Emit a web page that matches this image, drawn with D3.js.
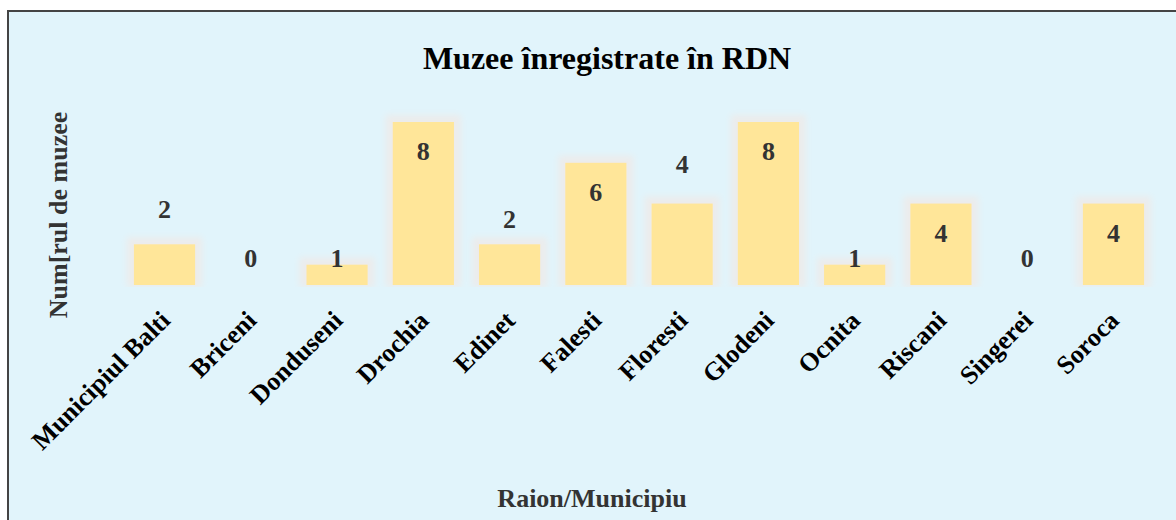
<!DOCTYPE html>
<html>
<head>
<meta charset="utf-8">
<script src="https://cdn.jsdelivr.net/npm/d3@7"></script>
<style>
  body { margin: 0; background: #fff; }
  svg { display: block; font-family: "Liberation Serif", "Times New Roman", serif; }
</style>
</head>
<body>
<div id="chart"></div>
<script>
// data
var raioane = ["Municipiul Balti", "Briceni", "Donduseni", "Drochia", "Edinet", "Falesti",
               "Floresti", "Glodeni", "Ocnita", "Riscani", "Singerei", "Soroca"];
var muzee = [2, 0, 1, 8, 2, 6, 4, 8, 1, 4, 0, 4];

var svgWidth = 1176;
var svgHeight = 520;

// labels that sit above their bar, px above the bar top
var labelLift = { "Municipiul Balti": 26, "Edinet": 16, "Floresti": 31 };

var svg = d3.select("#chart")
    .append("svg")
    .attr("width", svgWidth)
    .attr("height", svgHeight);

// panel
svg.append("rect")
    .attr("x", 8)
    .attr("y", 11)
    .attr("width", 1200)
    .attr("height", 560)
    .attr("fill", "#e1f4fb")
    .attr("stroke", "#444")
    .attr("stroke-width", 2);

// halo round the bars, cut off just under the baseline
var defs = svg.append("defs");
var glow = defs.append("filter")
    .attr("id", "glow")
    .attr("filterUnits", "userSpaceOnUse")
    .attr("x", 0).attr("y", 0)
    .attr("width", svgWidth).attr("height", 287);
glow.append("feMorphology")
    .attr("in", "SourceAlpha")
    .attr("operator", "dilate")
    .attr("radius", 7)
    .attr("result", "fat");
glow.append("feGaussianBlur")
    .attr("in", "fat")
    .attr("stdDeviation", 3)
    .attr("result", "soft");
glow.append("feFlood").attr("flood-color", "#ececec").attr("result", "col");
glow.append("feComposite")
    .attr("in", "col").attr("in2", "soft")
    .attr("operator", "in").attr("result", "halo");
var merge = glow.append("feMerge");
merge.append("feMergeNode").attr("in", "halo");
merge.append("feMergeNode").attr("in", "SourceGraphic");

var xScale = d3.scaleBand()
    .domain(raioane)
    .range([108, 1170])
    .paddingInner(0.29)
    .paddingOuter(0.3);

var yScale = d3.scaleLinear()
    .domain([0, d3.max(muzee)])
    .range([285, 122]);

var data = raioane.map(function(r, i) { return { raion: r, value: muzee[i] }; });

svg.append("g")
    .selectAll("rect")
    .data(data)
    .enter()
    .append("rect")
    .attr("x", d => xScale(d.raion))
    .attr("y", d => yScale(d.value))
    .attr("width", xScale.bandwidth())
    .attr("height", d => yScale(0) - yScale(d.value))
    .attr("fill", "#ffe699")
    .attr("filter", "url(#glow)");

// value labels
svg.append("g")
    .selectAll("text")
    .data(data)
    .enter()
    .append("text")
    .attr("x", d => xScale(d.raion) + xScale.bandwidth() / 2)
    .attr("y", function(d) {
        if (labelLift[d.raion] !== undefined) return yScale(d.value) - labelLift[d.raion];
        return Math.min(yScale(d.value) + 38, yScale(0) - 18);
    })
    .attr("text-anchor", "middle")
    .style("font-size", "26px")
    .style("font-weight", "bold")
    .attr("fill", "#333")
    .text(d => d.value);

// x axis, line hidden, labels turned
var xAxis = svg.append("g")
    .attr("transform", "translate(0, 285)")
    .call(d3.axisBottom(xScale).tickSize(0).tickPadding(0));
xAxis.select(".domain").remove();
xAxis.selectAll("text")
    .attr("y", 0)
    .attr("dy", 0)
    .attr("transform", "translate(7, 37) rotate(-45)")
    .style("text-anchor", "end")
    .style("font-size", "26px")
    .style("font-weight", "bold")
    .style("font-family", "Liberation Serif, serif")
    .attr("fill", "#000");

// title
svg.append("text")
    .attr("x", 607)
    .attr("y", 69)
    .attr("text-anchor", "middle")
    .style("font-size", "32px")
    .style("font-weight", "bold")
    .attr("fill", "#000")
    .text("Muzee înregistrate în RDN");

// axis titles
svg.append("text")
    .attr("transform", "translate(67, 215) rotate(-90)")
    .attr("text-anchor", "middle")
    .style("font-size", "26px")
    .style("font-weight", "bold")
    .attr("fill", "#333")
    .text("Num[rul de muzee");

svg.append("text")
    .attr("x", 592)
    .attr("y", 507)
    .attr("text-anchor", "middle")
    .style("font-size", "26px")
    .style("font-weight", "bold")
    .attr("fill", "#333")
    .text("Raion/Municipiu");
</script>
</body>
</html>
